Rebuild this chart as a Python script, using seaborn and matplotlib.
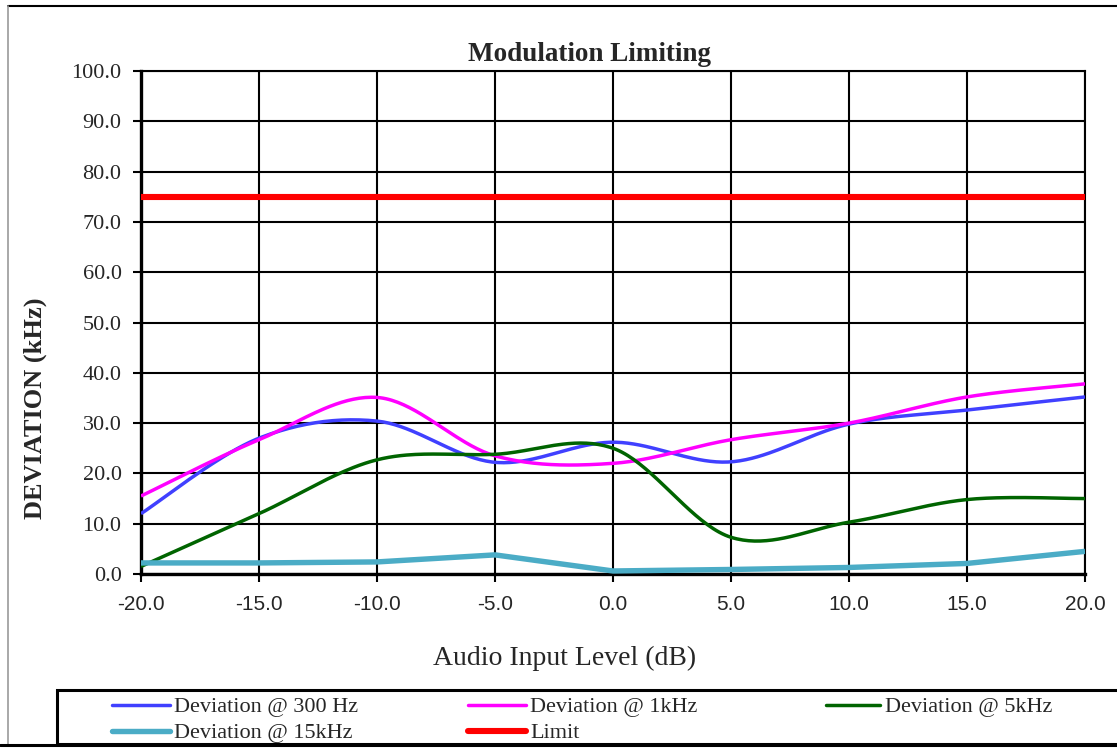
import numpy as np
import pandas as pd
import matplotlib
matplotlib.use("Agg")
import matplotlib.pyplot as plt
from matplotlib.lines import Line2D
from matplotlib.patches import Rectangle
import seaborn as sns

# Audio input level (dB) and measured deviation (kHz)
levels = [-20, -15, -10, -5, 0, 5, 10, 15, 20]
dev_300hz = [12.0, 27.0, 30.4, 22.2, 26.2, 22.3, 29.8, 32.6, 35.2]
dev_1khz = [15.5, 26.7, 35.1, 23.5, 22.0, 26.7, 30.0, 35.2, 37.8]
dev_5khz = [1.5, 12.0, 22.7, 23.8, 25.0, 7.3, 10.3, 14.8, 15.0]
dev_15khz = [2.2, 2.2, 2.4, 3.8, 0.6, 0.9, 1.3, 2.1, 4.5]
limit = [75.0] * 9

series_names = ["Deviation @ 300 Hz", "Deviation @ 1kHz", "Deviation @ 5kHz",
                "Deviation @ 15kHz", "Limit"]
colors = ["#4040FF", "#FF00FF", "#006400", "#4BACC6", "#FF0000"]
y_ticks = [0, 10, 20, 30, 40, 50, 60, 70, 80, 90, 100]
x_ticks = [-20, -15, -10, -5, 0, 5, 10, 15, 20]

W, H = 1117, 752


def smooth(xs, ys, n=40):
    """Spreadsheet-style smoothed line: cubic Bezier segments through each point."""
    x = np.asarray(xs, float)
    y = np.asarray(ys, float)
    px, py = [], []
    m = len(x)
    for i in range(m - 1):
        x0, y0 = x[i], y[i]
        x3, y3 = x[i + 1], y[i + 1]
        xa, ya = (x[i - 1], y[i - 1]) if i > 0 else (x0, y0)
        xb, yb = (x[i + 2], y[i + 2]) if i + 2 < m else (x3, y3)
        x1, y1 = x0 + (x3 - xa) / 6, y0 + (y3 - ya) / 6
        x2, y2 = x3 - (xb - x0) / 6, y3 - (yb - y0) / 6
        t = np.linspace(0, 1, n, endpoint=(i == m - 2))
        a, b, c, d = (1 - t) ** 3, 3 * (1 - t) ** 2 * t, 3 * (1 - t) * t ** 2, t ** 3
        px.append(a * x0 + b * x1 + c * x2 + d * x3)
        py.append(a * y0 + b * y1 + c * y2 + d * y3)
    return np.concatenate(px), np.concatenate(py)


sns.set_theme(style="white")
plt.rcParams["font.family"] = ["Liberation Serif", "DejaVu Serif"]

fig = plt.figure(figsize=(W / 100, H / 100), dpi=100)
fig.patch.set_facecolor("white")


def fx(p):
    return p / W


def fy(p):
    return 1 - p / H


ax = fig.add_axes([fx(141), fy(574), fx(1085) - fx(141), fy(71) - fy(574)])
ax.set_facecolor("white")

frames = []
for name, vals, smooth_it in [(series_names[0], dev_300hz, True),
                              (series_names[1], dev_1khz, True),
                              (series_names[2], dev_5khz, True),
                              (series_names[3], dev_15khz, False),
                              (series_names[4], limit, False)]:
    if smooth_it:
        sx, sy = smooth(levels, vals)
    else:
        sx, sy = np.asarray(levels, float), np.asarray(vals, float)
    frames.append(pd.DataFrame({"level": sx, "deviation": sy, "series": name}))
df = pd.concat(frames, ignore_index=True)

widths = [2.5, 2.5, 2.5, 3.9, 4.4]
for name, col, lw in zip(series_names, colors, widths):
    sns.lineplot(data=df[df["series"] == name], x="level", y="deviation",
                 color=col, linewidth=lw, ax=ax, sort=False,
                 estimator=None, solid_capstyle="butt", zorder=3)

ax.set_xlim(-20, 20)
ax.set_ylim(0, 100)
ax.set_xticks(x_ticks)
ax.set_yticks(y_ticks)
ax.set_xticklabels([f"{v:.1f}" for v in x_ticks], family="Liberation Sans", fontsize=15)
ax.set_yticklabels([f"{v:.1f}" for v in y_ticks], family="Liberation Serif", fontsize=16)
ax.grid(True, color="black", linewidth=1.5, zorder=1)
ax.set_axisbelow(True)
ax.tick_params(axis="both", which="major", direction="out", length=6, width=1.5,
               color="black", bottom=True, left=True)
ax.tick_params(axis="x", pad=9)
ax.tick_params(axis="y", pad=8)
for side in ["left", "bottom"]:
    ax.spines[side].set_linewidth(2.4)
    ax.spines[side].set_color("black")
for side in ["top", "right"]:
    ax.spines[side].set_linewidth(1.5)
    ax.spines[side].set_color("black")
ax.set_xlabel("")
ax.set_ylabel("")
leg = ax.get_legend()
if leg:
    leg.remove()

# Titles and axis labels
fig.text(fx(590), fy(61), "Modulation Limiting", ha="center", va="baseline",
         fontsize=19.5, fontweight="bold")
fig.text(fx(35), fy(408), "DEVIATION (kHz)", ha="center", va="center",
         rotation=90, fontsize=19, fontweight="bold")
fig.text(fx(565), fy(665), "Audio Input Level (dB)", ha="center", va="baseline",
         fontsize=20)

# Outer chart frame
fig.add_artist(Line2D([fx(8), fx(W)], [fy(6), fy(6)], color="black", lw=1.5))
fig.add_artist(Line2D([fx(8), fx(8)], [fy(6), fy(745)], color="#9a9a9a", lw=1.2))
fig.add_artist(Line2D([fx(0), fx(W)], [fy(745), fy(745)], color="black", lw=2.2))

# Legend box and entries
fig.add_artist(Rectangle((fx(57), fy(744)), fx(W + 10) - fx(57), fy(690) - fy(744),
                         fill=False, edgecolor="black", lw=2.2))
legend_slots = [(112, 170, 174, 705), (468, 526, 530, 705), (826, 880, 885, 705),
                (112, 170, 174, 731), (468, 526, 530, 731)]
for (x0, x1, xt, yr), name, col, lw in zip(legend_slots, series_names, colors, widths):
    fig.add_artist(Line2D([fx(x0), fx(x1)], [fy(yr), fy(yr)], color=col, lw=lw,
                          solid_capstyle="round"))
    fig.text(fx(xt), fy(yr), name, ha="left", va="center_baseline", fontsize=16)

fig.savefig("out.png", dpi=100, facecolor="white")
